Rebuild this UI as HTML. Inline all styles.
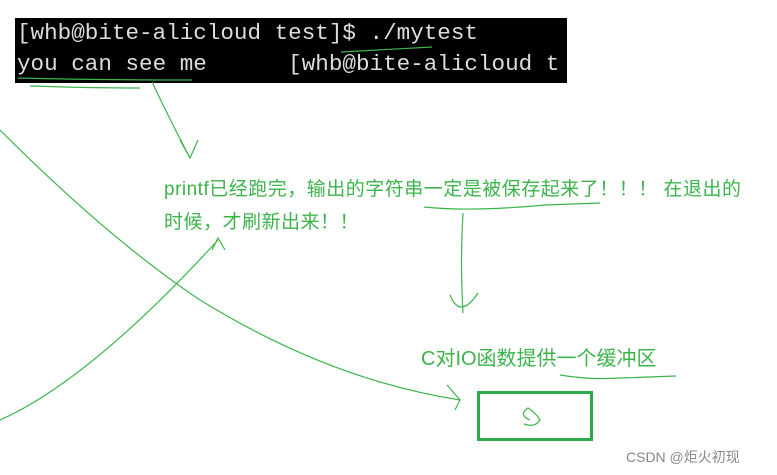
<!DOCTYPE html>
<html><head><meta charset="utf-8"><style>
body{margin:0;width:777px;height:475px;background:#fff;position:relative;overflow:hidden;font-family:"Liberation Sans","Noto Sans CJK SC",sans-serif}
.term{position:absolute;left:15px;top:18px;width:550px;height:65px;background:#000;color:#ddd;font-family:"Liberation Mono",monospace;font-size:22.6px;line-height:31px;padding-left:2px;white-space:pre;overflow:hidden}
.g{position:absolute;color:#3cb44b;font-size:19px;white-space:nowrap}
.wm{position:absolute;left:626px;top:447px;color:#888;font-size:14px}
</style></head><body>
<div class="term">[whb@bite-alicloud test]$ ./mytest
you can see me      [whb@bite-alicloud t</div>
<div class="g" style="left:164px;top:174px;letter-spacing:0.5px">printf已经跑完，输出的字符串一定是被保存起来了！！！ 在退出的</div>
<div class="g" style="left:164px;top:207px;letter-spacing:0.5px">时候，才刷新出来！！</div>
<div class="g" style="left:421px;top:342px;font-size:20px">C对IO函数提供一个缓冲区</div>
<div class="wm">CSDN @炬火初现</div>
<svg width="777" height="475" style="position:absolute;left:0;top:0" fill="none" stroke="#3cb44b" stroke-width="1.2">
<path d="M341 52 Q380 50 432 47"/>
<path d="M18 78 Q100 80 192 80"/>
<path d="M30 86 Q90 88 140 88"/>
<path d="M152 82 Q170 120 190 158 M180 140 L190 158 L198 140"/>
<path d="M0 130 Q110 240 200 300 Q330 380 460 400 M447 385 L460 400 L455 410"/>
<path d="M0 420 Q90 380 218 240 M212 250 L218 238 L225 250"/>
<path d="M424 207 Q470 212 545 205 L600 203"/>
<path d="M463 213 Q460 260 463 313 M450 295 Q460 320 478 293"/>
<path d="M560 375 Q590 380 620 378 L676 376"/>
<path d="M530 420 Q518 415 528 408 Q536 413 540 420 Q535 428 524 424"/>
</svg>
<div style="position:absolute;left:477px;top:391px;width:110px;height:44px;border:3px solid #2da84a"></div>
</body></html>
